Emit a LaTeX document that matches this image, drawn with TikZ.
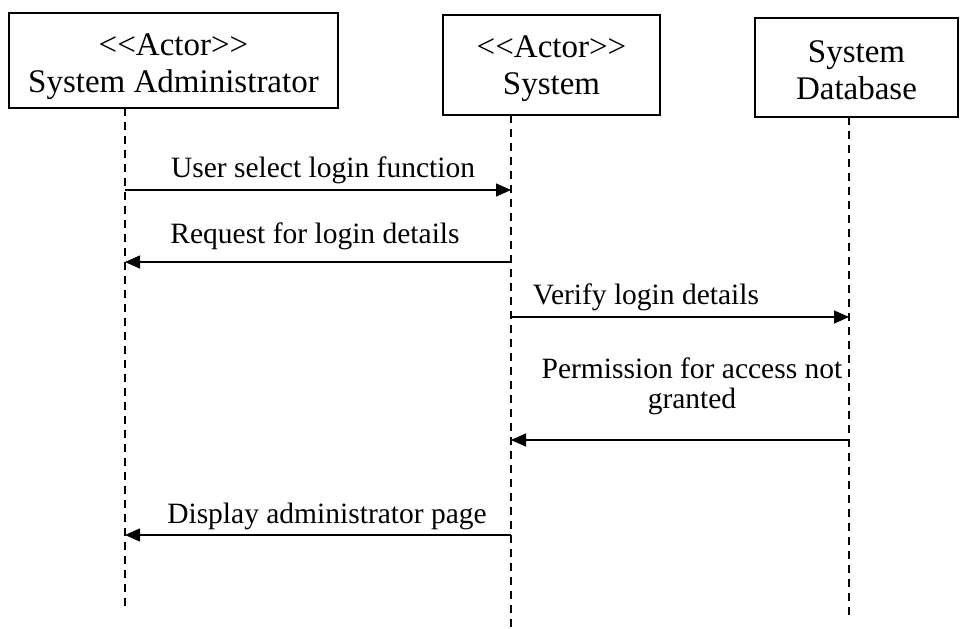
\documentclass[tikz,border=0pt]{standalone}
\usepackage{fontspec}
\setmainfont{Liberation Serif}
\usetikzlibrary{arrows.meta}
\begin{document}
\begin{tikzpicture}[x=1pt,y=-1pt,
  actorbox/.style={draw, line width=1.4pt, inner sep=0pt, align=center,
    text depth=0pt, font=\fontsize{33}{37}\selectfont},
  lifeline/.style={line width=1.3pt, dash pattern=on 8pt off 6pt},
  msg/.style={line width=1.4pt, -{Triangle[length=15pt,width=13pt]}},
  msglabel/.style={font=\fontsize{29.5}{30}\selectfont, anchor=base, inner sep=0pt, align=center}]
\useasboundingbox (0,0) rectangle (964,629);
% heads
\node[actorbox, minimum width=329pt, minimum height=95pt, text height=63pt] (admin) at (173.5,60.5)
  {<\kern0pt<Actor>\kern0pt>\\System Administrator};
\node[actorbox, minimum width=217pt, minimum height=100pt, text height=58pt] (sys) at (551.5,65)
  {<\kern0pt<Actor>\kern0pt>\\System};
\node[actorbox, minimum width=203pt, minimum height=99pt, text height=63pt] (db) at (856.5,67.5)
  {System\\Database};
% lifeline coordinates
\coordinate (aTop) at (125,108);
\coordinate (aEnd) at (125,609);
\coordinate (sTop) at (511,115);
\coordinate (sEnd) at (511,629);
\coordinate (dTop) at (849,117);
\coordinate (dEnd) at (849,615);
\draw[lifeline] (aTop) -- (aEnd);
\draw[lifeline] (sTop) -- (sEnd);
\draw[lifeline] (dTop) -- (dEnd);
% message points
\coordinate (a1) at (125,190); \coordinate (s1) at (511,190);
\coordinate (a2) at (125,262); \coordinate (s2) at (511,262);
\coordinate (s3) at (511,317); \coordinate (d3) at (849,317);
\coordinate (s4) at (511,440); \coordinate (d4) at (849,440);
\coordinate (a5) at (125,535); \coordinate (s5) at (511,535);
\draw[msg] (a1) -- (s1);
\draw[msg] (s2) -- (a2);
\draw[msg] (s3) -- (d3);
\draw[msg] (d4) -- (s4);
\draw[msg] (s5) -- (a5);
% labels
\node[msglabel] (l1) at (323,177) {User select login function};
\node[msglabel] (l2) at (315,243) {Request for login details};
\node[msglabel] (l3) at (646,304) {Verify login details};
\node[msglabel] (l4) at (692,408) {Permission for access not\\granted};
\node[msglabel] (l5) at (327,523) {Display administrator page};
\end{tikzpicture}
\end{document}
